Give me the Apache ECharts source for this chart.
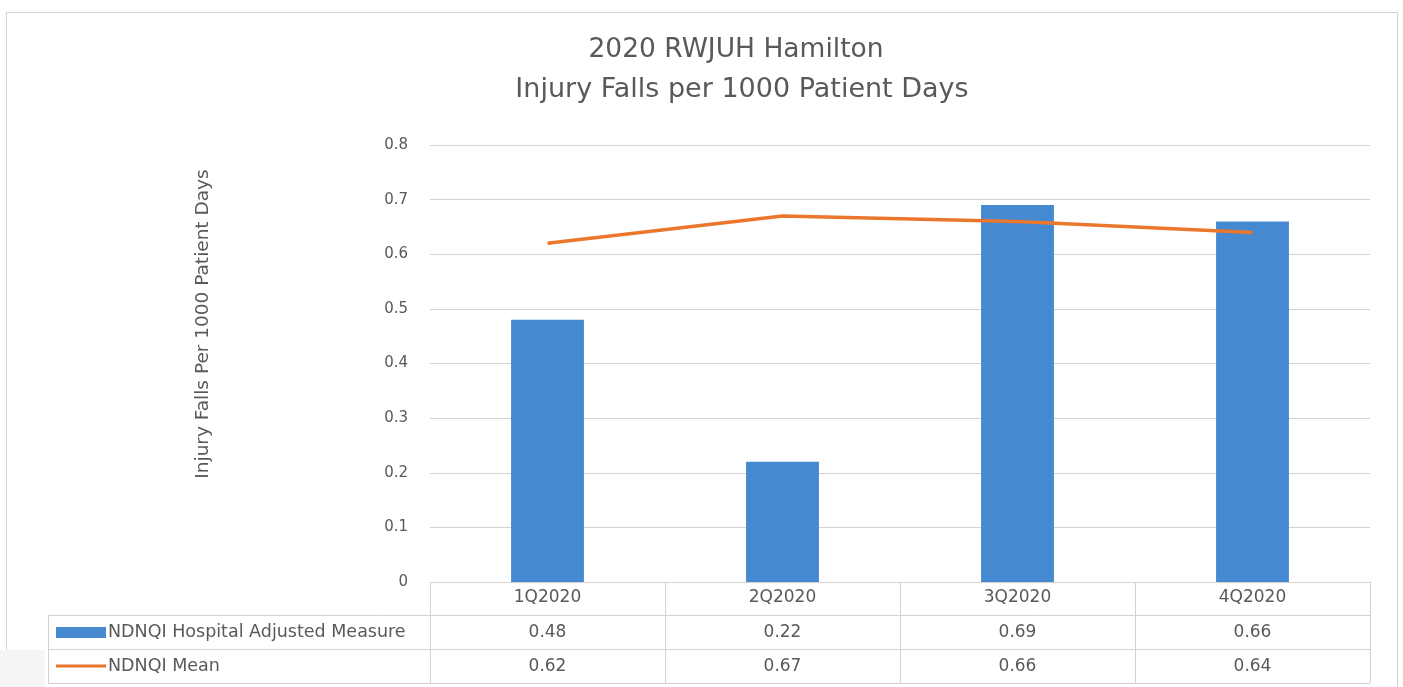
<!DOCTYPE html>
<html>
<head>
<meta charset="utf-8">
<script src="https://cdn.jsdelivr.net/npm/echarts@6/dist/echarts.min.js"></script>
<style>
html,body{margin:0;padding:0;background:#fff;}
#chart{width:1403px;height:687px;}
</style>
</head>
<body>
<div id="chart"></div>
<script>
const titleLines = ['2020 RWJUH Hamilton', 'Injury Falls per 1000 Patient Days'];
const yAxisTitle = 'Injury Falls Per 1000 Patient Days';
const categories = ['1Q2020', '2Q2020', '3Q2020', '4Q2020'];
const seriesNames = ['NDNQI Hospital Adjusted Measure', 'NDNQI Mean'];
const measureValues = [0.48, 0.22, 0.69, 0.66];
const meanValues = [0.62, 0.67, 0.66, 0.64];
const yMin = 0, yMax = 0.8, yInterval = 0.1;

const FONT = 'DejaVu Sans';
const TXT = '#595959';
const LINE = '#D8D0CC';
const BLUE = '#4589D0';
const ORANGE = '#EA772C';

const chart = echarts.init(document.getElementById('chart'), null, {renderer: 'canvas'});

function hLine(x1, x2, y) {
  return {type: 'line', shape: {x1: x1, y1: y, x2: x2, y2: y}, style: {stroke: LINE, lineWidth: 1}, silent: true};
}
function vLine(x, y1, y2) {
  return {type: 'line', shape: {x1: x, y1: y1, x2: x, y2: y2}, style: {stroke: LINE, lineWidth: 1}, silent: true};
}

const valueAxisCommon = {
  type: 'category',
  gridIndex: 0,
  position: 'bottom',
  axisLine: {show: false},
  axisTick: {show: false},
  splitLine: {show: false},
  axisLabel: {fontFamily: FONT, fontSize: 17, color: TXT, margin: 8}
};

chart.setOption({
  animation: false,
  backgroundColor: '#fff',
  grid: {left: 430, right: 33, top: 145, bottom: 105, containLabel: false},
  xAxis: [
    {
      type: 'category',
      data: categories,
      position: 'bottom',
      axisLine: {show: true, lineStyle: {color: LINE, width: 1}},
      axisTick: {show: true, length: 101, interval: 0, lineStyle: {color: LINE, width: 1}},
      axisLabel: {fontFamily: FONT, fontSize: 17, color: TXT, margin: 7, interval: 0},
      splitLine: {show: false}
    },
    Object.assign({}, valueAxisCommon, {offset: 34, data: measureValues.map(v => v.toFixed(2))}),
    Object.assign({}, valueAxisCommon, {offset: 68, data: meanValues.map(v => v.toFixed(2))})
  ],
  yAxis: {
    type: 'value',
    min: yMin, max: yMax, interval: yInterval,
    axisLine: {show: false},
    axisTick: {show: false},
    axisLabel: {fontFamily: FONT, fontSize: 15, color: TXT, margin: 22},
    splitLine: {show: true, lineStyle: {color: LINE, width: 1}}
  },
  series: [
    {
      name: seriesNames[0],
      type: 'bar',
      xAxisIndex: 0,
      data: measureValues,
      barWidth: '31%',
      itemStyle: {color: BLUE}
    },
    {
      name: seriesNames[1],
      type: 'line',
      xAxisIndex: 0,
      data: meanValues,
      showSymbol: false,
      symbol: 'none',
      lineStyle: {color: ORANGE, width: 3.5},
      itemStyle: {color: ORANGE}
    }
  ],
  graphic: [
    // outer frame
    {type: 'rect', shape: {x: 0, y: 650, width: 45, height: 37}, style: {fill: '#F5F5F5'}, silent: true, z: -10},
    hLine(6, 1397, 12.5),
    vLine(6.5, 12, 650),
    vLine(1397.5, 12, 687),
    // data table
    hLine(48, 1370, 615.5),
    hLine(48, 1370, 649.5),
    hLine(48, 1370, 683.5),
    vLine(48.5, 615, 684),
    // legend keys
    {type: 'rect', shape: {x: 56, y: 627, width: 50, height: 11}, style: {fill: BLUE}, silent: true},
    {type: 'line', shape: {x1: 56, y1: 666, x2: 106, y2: 666}, style: {stroke: ORANGE, lineWidth: 3}, silent: true},
    {type: 'text', x: 108, y: 632, style: {text: seriesNames[0], fontFamily: FONT, fontSize: 17.5, fill: TXT, textAlign: 'left', textVerticalAlign: 'middle'}, silent: true},
    {type: 'text', x: 108, y: 666, style: {text: seriesNames[1], fontFamily: FONT, fontSize: 17.5, fill: TXT, textAlign: 'left', textVerticalAlign: 'middle'}, silent: true},
    // titles
    {type: 'text', x: 736, y: 50, style: {text: titleLines[0], fontFamily: FONT, fontSize: 26.5, fill: TXT, textAlign: 'center', textVerticalAlign: 'middle'}, silent: true},
    {type: 'text', x: 742, y: 90, style: {text: titleLines[1], fontFamily: FONT, fontSize: 27, fill: TXT, textAlign: 'center', textVerticalAlign: 'middle'}, silent: true},
    // y axis title
    {type: 'text', x: 203, y: 324, rotation: Math.PI / 2, style: {text: yAxisTitle, fontFamily: FONT, fontSize: 18.5, fill: TXT, textAlign: 'center', textVerticalAlign: 'middle'}, silent: true}
  ]
});
</script>
</body>
</html>
